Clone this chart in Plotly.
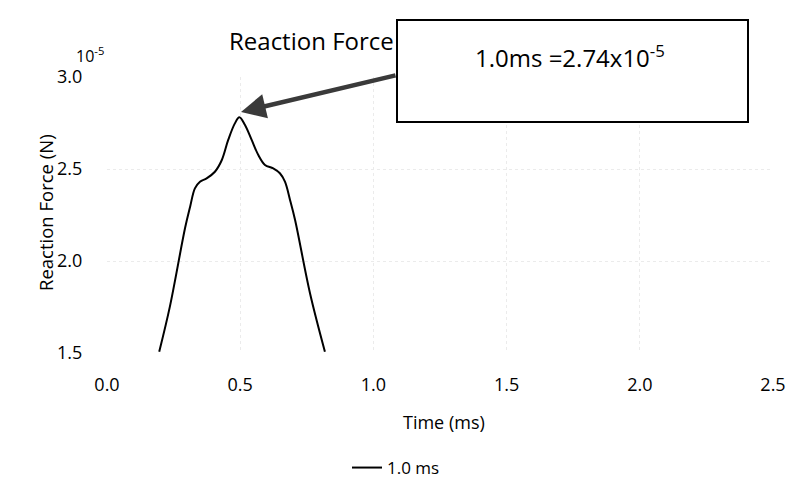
import plotly.graph_objects as go

# Data (force in units of 1e-5 N)
time_ms = [0.196, 0.236, 0.293, 0.312, 0.330, 0.349, 0.374, 0.405, 0.431, 0.455,
           0.480, 0.497, 0.518, 0.543, 0.568, 0.593, 0.624, 0.649, 0.668, 0.687,
           0.706, 0.762, 0.818]
force = [1.507, 1.752, 2.179, 2.295, 2.395, 2.431, 2.449, 2.485, 2.549, 2.658,
         2.748, 2.781, 2.739, 2.658, 2.576, 2.522, 2.504, 2.477, 2.431, 2.332,
         2.223, 1.825, 1.507]
series_name = "1.0 ms"
x_ticks = [0.0, 0.5, 1.0, 1.5, 2.0, 2.5]
y_ticks = [1.5, 2.0, 2.5, 3.0]

FONT = "Open Sans"

# plot area on screen: x 107..773, y 77..353 (page has 8px body offset)
def px(sx):
    return (sx - 107) / 666

def py(sy):
    return (353 - sy) / 276

fig = go.Figure()
fig.add_trace(go.Scatter(
    x=time_ms, y=force, mode="lines", name=series_name,
    line=dict(color="black", width=2, shape="spline", smoothing=1.0),
))

fig.update_layout(
    width=800, height=493,
    margin=dict(l=99, r=35, t=69, b=148),
    paper_bgcolor="white", plot_bgcolor="white",
    font=dict(family=FONT, size=18, color="black"),
    showlegend=True,
    legend=dict(orientation="h", x=px(347), y=py(468), xanchor="left", yanchor="middle",
                font=dict(size=17), bgcolor="rgba(0,0,0,0)"),
    xaxis=dict(
        range=[0, 2.5], tickvals=x_ticks, ticktext=[f"{v:.1f}" for v in x_ticks],
        ticks="outside", ticklen=15, tickcolor="rgba(0,0,0,0)",
        showline=False, zeroline=False,
        showgrid=True, gridcolor="#ebebeb", griddash="dot", gridwidth=1,
        tickfont=dict(size=18),
    ),
    yaxis=dict(
        range=[1.5, 3.0], tickvals=y_ticks, ticktext=[f"{v:.1f}" for v in y_ticks],
        ticks="outside", ticklen=20, tickcolor="rgba(0,0,0,0)",
        showline=False, zeroline=False,
        showgrid=True, gridcolor="#ebebeb", griddash="dot", gridwidth=1,
        tickfont=dict(size=18),
    ),
)

# x-axis title
fig.add_annotation(text="Time (ms)", xref="paper", yref="paper",
                   x=px(444), y=py(422), showarrow=False,
                   font=dict(size=18), xanchor="center", yanchor="middle")
# y-axis title
fig.add_annotation(text="Reaction Force (N)", xref="paper", yref="paper",
                   x=px(45), y=py(213), textangle=-90, showarrow=False,
                   font=dict(size=18.5), xanchor="center", yanchor="middle")
# exponent label
fig.add_annotation(text="10<sup>-5</sup>", xref="paper", yref="paper",
                   x=px(90), y=py(55), showarrow=False,
                   font=dict(size=16), xanchor="center", yanchor="middle")
# title
fig.add_annotation(text="Reaction Force", xref="paper", yref="paper",
                   x=px(396), y=py(40), showarrow=False,
                   font=dict(size=24), xanchor="right", yanchor="middle")
# arrow to peak
fig.add_annotation(x=0.503, y=2.81, xref="x", yref="y", text="",
                   showarrow=True, ax=156, ay=-37, arrowhead=2, arrowsize=1.1,
                   arrowwidth=4.5, arrowcolor="#3a3a3a")
# callout box
fig.add_shape(type="rect", xref="paper", yref="paper",
              x0=px(397), x1=px(748), y0=py(122), y1=py(20),
              line=dict(color="black", width=2), fillcolor="white", layer="above")
fig.add_annotation(text="1.0ms =2.74x10<sup>-5</sup>", xref="paper", yref="paper",
                   x=px(570), y=py(57), showarrow=False,
                   font=dict(size=24), xanchor="center", yanchor="middle")

fig.write_html("out.html")
